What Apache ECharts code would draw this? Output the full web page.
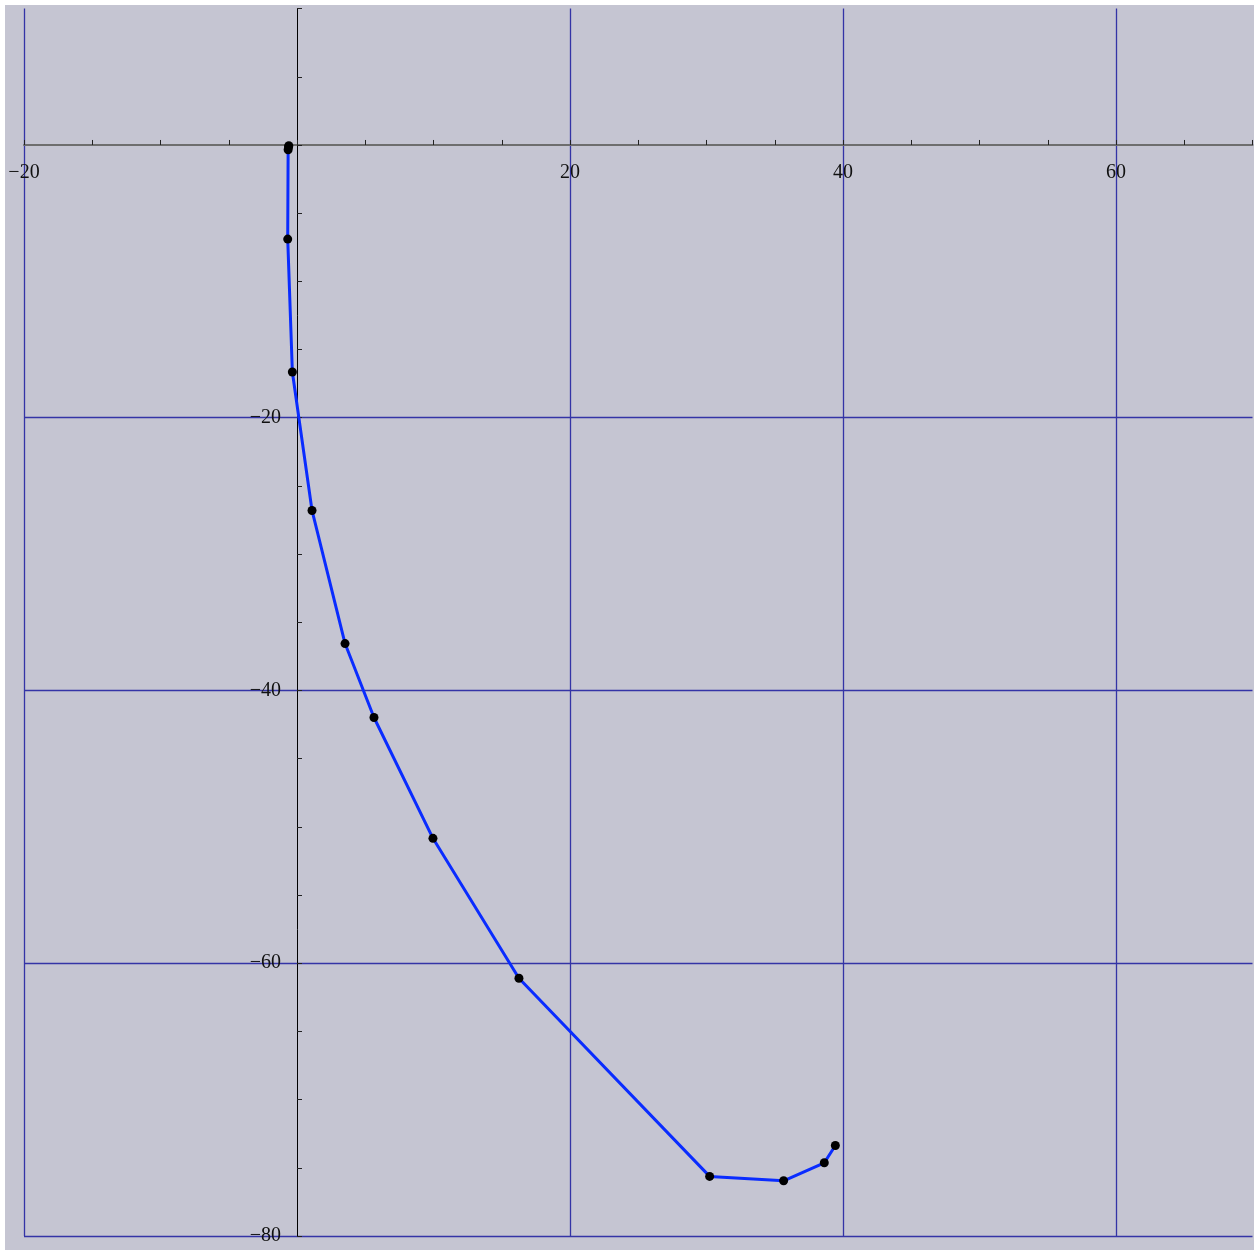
<!DOCTYPE html>
<html>
<head>
<meta charset="utf-8">
<script src="https://cdn.jsdelivr.net/npm/echarts@6/dist/echarts.min.js"></script>
<style>
html,body{margin:0;padding:0;background:#fff;overflow:hidden;width:1254px;height:1250px;}
#chart{position:absolute;left:5px;top:5px;width:1249px;height:1245px;}
</style>
</head>
<body>
<div id="chart"></div>
<script>
// Data
const xValues = [-0.60, -0.62, -0.65, -0.68, -0.34, 1.10, 3.52, 5.64, 9.96, 16.26, 30.23, 35.65, 38.63, 39.44];
const yValues = [-0.05, -0.15, -0.35, -6.90, -16.65, -26.80, -36.56, -41.98, -50.84, -61.10, -75.63, -75.95, -74.63, -73.36];
const xLabelValues = [-20, 20, 40, 60];
const yLabelValues = [-20, -40, -60, -80];

const points = xValues.map((x, i) => [x, yValues[i]]);
const fmtNum = v => String(v).replace('-', '\u2212');
const gridBlue = '#3434a6';
const labelFont = {fontFamily: 'Liberation Serif', fontSize: 20, color: '#111'};

// layout (pixels inside the chart div)
const G = {left: 19, right: 1.5, top: 3.6, bottom: 14};
const W = 1249, H = 1245;
const xMin = -20, xMax = 70, yMin = -80, yMax = 10;
const plotW = W - G.left - G.right, plotH = H - G.top - G.bottom;
const xAxisOffset = -(yMax / (yMax - yMin)) * plotH;      // move top axis down to y=0
const yAxisOffset = -((0 - xMin) / (xMax - xMin)) * plotW; // move left axis right to x=0

const chart = echarts.init(document.getElementById('chart'));
chart.setOption({
  backgroundColor: '#c5c5d2',
  animation: false,
  grid: Object.assign({containLabel: false, outerBoundsMode: 'none'}, G),
  xAxis: [
    {
      type: 'value', min: xMin, max: xMax, interval: 5, position: 'top', offset: xAxisOffset,
      axisLine: {show: true, onZero: false, lineStyle: {color: '#6e6e6e', width: 2}},
      axisTick: {show: true, inside: false, length: 5, lineStyle: {color: '#222', width: 1}},
      axisLabel: Object.assign({
        inside: true, margin: 18,
        formatter: v => xLabelValues.includes(v) ? fmtNum(v) : ''
      }, labelFont),
      splitLine: {show: false}
    },
    {
      type: 'value', min: xMin, max: xMax, interval: 20, position: 'bottom',
      axisLine: {show: false, onZero: false}, axisTick: {show: false}, axisLabel: {show: false},
      splitLine: {show: true, showMinLine: true, showMaxLine: false,
        lineStyle: {color: [gridBlue, 'rgba(0,0,0,0)', gridBlue, gridBlue, gridBlue], width: 1.3}}
    }
  ],
  yAxis: [
    {
      type: 'value', min: yMin, max: yMax, interval: 5, position: 'left', offset: yAxisOffset,
      axisLine: {show: true, onZero: false, lineStyle: {color: '#000', width: 1}},
      axisTick: {show: true, inside: true, length: 5, lineStyle: {color: '#222', width: 1}},
      axisLabel: Object.assign({
        inside: false, margin: 16,
        formatter: v => yLabelValues.includes(v) ? fmtNum(v) : ''
      }, labelFont),
      splitLine: {show: false}
    },
    {
      type: 'value', min: yMin, max: yMax, interval: 20, position: 'right',
      axisLine: {show: false, onZero: false}, axisTick: {show: false}, axisLabel: {show: false},
      splitLine: {show: true, showMinLine: true, showMaxLine: false,
        lineStyle: {color: [gridBlue, gridBlue, gridBlue, gridBlue, 'rgba(0,0,0,0)'], width: 1.3}}
    }
  ],
  series: [{
    type: 'line',
    xAxisIndex: 0, yAxisIndex: 0,
    data: points,
    symbol: 'circle', symbolSize: 9,
    itemStyle: {color: '#000'},
    lineStyle: {color: '#0a2cff', width: 3},
    z: 5
  }]
});
</script>
</body>
</html>
